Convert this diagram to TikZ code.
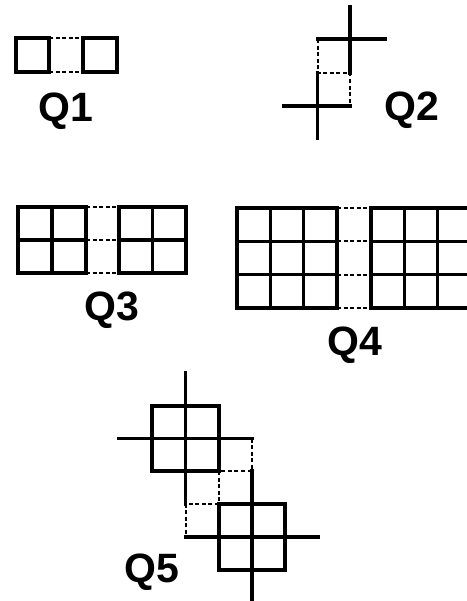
\documentclass[tikz,border=0pt]{standalone}
\usepackage{fontspec}
\setmainfont{Liberation Sans}
\begin{document}
\begin{tikzpicture}[x=1pt,y=-1pt,
  solid line/.style={line width=3.2pt,line cap=rect,line join=miter},
  dash line/.style={line width=2pt,dash pattern=on 4pt off 2.6pt},
  qlabel/.style={anchor=base,inner sep=0pt,font=\bfseries\fontsize{41}{41}\selectfont}]
\useasboundingbox (0,0) rectangle (466,601);
% Q1
\draw[solid line] (16,38) rectangle (49,72);
\draw[solid line] (83,38) rectangle (117,72);
\draw[dash line] (49,38) -- (83,38) (49,72) -- (83,72);
\node[qlabel] (q1) at (66,122) {Q1};
% Q2
\draw[solid line] (350,7) -- (350,73);
\draw[solid line] (317.5,39) -- (385,39);
\draw[solid line] (317.5,73) -- (317.5,138);
\draw[solid line] (284,106) -- (350,106);
\draw[dash line] (317.5,39) -- (317.5,73) -- (350,73) -- (350,106);
\node[qlabel] (q2) at (412,121) {Q2};
% Q3
\draw[solid line] (18,207) rectangle (86,273);
\draw[solid line] (18,240) -- (86,240) (52,207) -- (52,273);
\draw[solid line] (119,207) rectangle (186,273);
\draw[solid line] (119,240) -- (186,240) (152.5,207) -- (152.5,273);
\draw[dash line] (86,207) -- (119,207) (86,240) -- (119,240) (86,273) -- (119,273);
\node[qlabel] (q3) at (111.5,320) {Q3};
% Q4
\foreach \x in {237,371}{
  \draw[solid line] (\x,208) rectangle ({\x+100},308);
  \draw[solid line] ({\x+33.3},208) -- ({\x+33.3},308) ({\x+66.7},208) -- ({\x+66.7},308);
  \draw[solid line] (\x,241.3) -- ({\x+100},241.3) (\x,274.7) -- ({\x+100},274.7);
}
\draw[dash line] (337,208) -- (371,208) (337,241.3) -- (371,241.3)
  (337,274.7) -- (371,274.7) (337,308) -- (371,308);
\node[qlabel] (q4) at (355,355) {Q4};
% Q5
\draw[solid line] (152,406) rectangle (219,471);
\draw[solid line] (185.5,373) -- (185.5,504);
\draw[solid line] (119,438.5) -- (252,438.5);
\draw[solid line] (219,504) rectangle (285,570);
\draw[solid line] (252,471) -- (252,600);
\draw[solid line] (185.5,537) -- (318,537);
\draw[dash line] (252,438.5) -- (252,471) -- (219,471);
\draw[dash line] (219,471) -- (219,504) -- (185.5,504) -- (185.5,537);
\node[qlabel] (q5) at (152,582) {Q5};
\end{tikzpicture}
\end{document}
